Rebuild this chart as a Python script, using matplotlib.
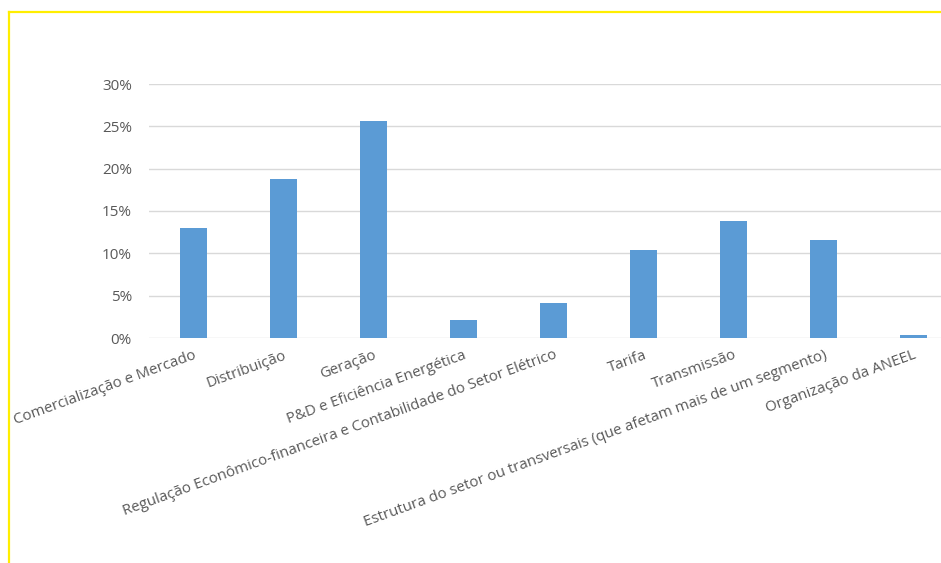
import matplotlib
matplotlib.use("Agg")
import matplotlib.pyplot as plt
from matplotlib.lines import Line2D
from matplotlib.ticker import PercentFormatter

categories = [
    "Comercialização e Mercado",
    "Distribuição",
    "Geração",
    "P&D e Eficiência Energética",
    "Regulação Econômico-financeira e Contabilidade do Setor Elétrico",
    "Tarifa",
    "Transmissão",
    "Estrutura do setor ou transversais (que afetam mais de um segmento)",
    "Organização da ANEEL",
]
values = [0.130, 0.188, 0.256, 0.021, 0.041, 0.104, 0.138, 0.116, 0.003]
yticks = [0, 0.05, 0.10, 0.15, 0.20, 0.25, 0.30]

plt.rcParams['font.family'] = ['Open Sans', 'DejaVu Sans']

W, H = 941, 563
fig = plt.figure(figsize=(W / 100, H / 100), dpi=100)
fig.patch.set_facecolor('white')

left = 148.5 / W
width = 810 / W
bottom = 1 - 338 / H
height = (338 - 84) / H
ax = fig.add_axes([left, bottom, width, height])

x = list(range(len(categories)))
ax.bar(x, values, width=0.31, color='#5b9bd5', zorder=3)

ax.set_xlim(-0.5, len(categories) - 0.5)
ax.set_ylim(0, 0.30)
ax.set_yticks(yticks)
ax.yaxis.set_major_formatter(PercentFormatter(1.0, decimals=0))
ax.grid(axis='y', color='#d9d9d9', linewidth=1.0, zorder=0)
ax.set_axisbelow(True)
for s in ax.spines.values():
    s.set_visible(False)
ax.tick_params(axis='y', length=0, pad=12, labelsize=11, labelcolor='#595959')
ax.tick_params(axis='x', length=0, pad=7, labelsize=10.8, labelcolor='#595959')
ax.set_xticks(x)
ax.set_xticklabels(categories, rotation=20, ha='right', va='top', rotation_mode='anchor')

# outer frame lines (yellow)
fig.add_artist(Line2D([8.5 / W, 8.5 / W], [0, 1 - 11.5 / H], color='#ffee00', linewidth=1.6, transform=fig.transFigure))
fig.add_artist(Line2D([8.5 / W, 1], [1 - 11.5 / H, 1 - 11.5 / H], color='#ffee00', linewidth=1.6, transform=fig.transFigure))

fig.savefig('out.png', dpi=100)
